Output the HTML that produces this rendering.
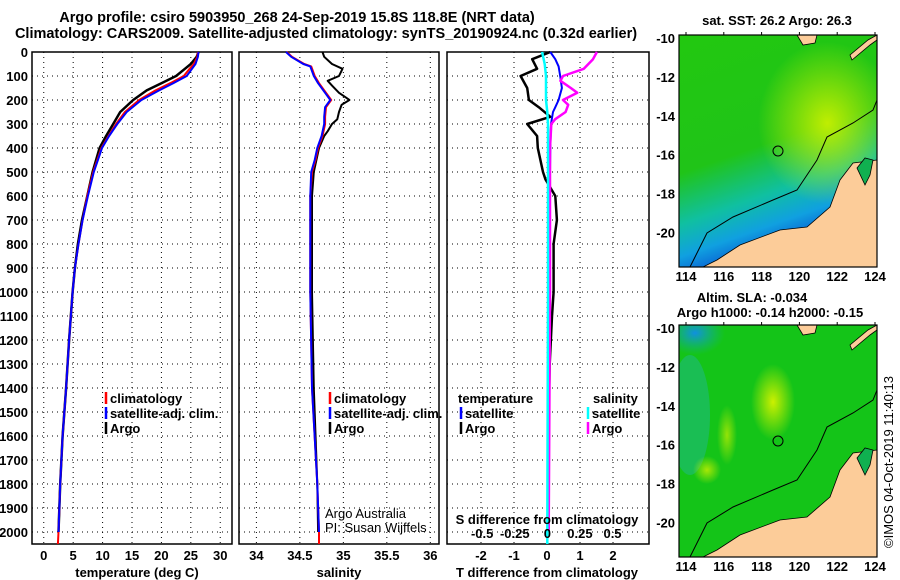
<!DOCTYPE html>
<html><head><meta charset="utf-8">
<style>
html,body{margin:0;padding:0;background:#fff;}
svg{display:block;font-family:"Liberation Sans",Arial,sans-serif;}
.b{font-weight:bold;font-size:13px;}
.t{font-weight:bold;font-size:14.5px;}
.n{font-size:13px;}
</style></head>
<body>
<svg id="root" width="900" height="580" viewBox="0 0 900 580" xmlns="http://www.w3.org/2000/svg">
<defs>
<linearGradient id="sstG" x1="0" y1="0" x2="0.3" y2="1">
<stop offset="0" stop-color="#22c810"/><stop offset="0.55" stop-color="#20c418"/><stop offset="0.75" stop-color="#10c0a0"/><stop offset="0.88" stop-color="#10a0e0"/><stop offset="1" stop-color="#0850d0"/>
</linearGradient>
<radialGradient id="sstY" cx="0.75" cy="0.38" r="0.35"><stop offset="0" stop-color="#c8f000" stop-opacity="0.95"/><stop offset="1" stop-color="#c8f000" stop-opacity="0"/></radialGradient>
<radialGradient id="slaY" cx="0.5" cy="0.5" r="0.5"><stop offset="0" stop-color="#ccf000"/><stop offset="1" stop-color="#ccf000" stop-opacity="0"/></radialGradient>
<radialGradient id="slaB" cx="0.5" cy="0.5" r="0.5"><stop offset="0" stop-color="#1090e0"/><stop offset="1" stop-color="#10b0a0" stop-opacity="0"/></radialGradient>
<clipPath id="m1c"><rect x="679" y="35" width="198" height="232"/></clipPath>
<clipPath id="m2c"><rect x="679" y="325" width="198" height="232"/></clipPath>
</defs>
<text x="297" y="22" text-anchor="middle" class="t">Argo profile: csiro 5903950_268 24-Sep-2019 15.8S 118.8E (NRT data)</text>
<text x="326" y="38" text-anchor="middle" class="t">Climatology: CARS2009. Satellite-adjusted climatology: synTS_20190924.nc (0.32d earlier)</text>
<g id="panels"></g>
<g id="maps"></g>
<text transform="translate(893,548) rotate(-90)" class="n">©IMOS 04-Oct-2019 11:40:13</text>
</svg>
<script>
// ---- data ----
const depthTicks = [0,100,200,300,400,500,600,700,800,900,1000,1100,1200,1300,1400,1500,1600,1700,1800,1900,2000];
const tempTicks = [0,5,10,15,20,25,30];
const salTicks = [34,34.5,35,35.5,36];
const tdiffTicks = [-2,-1,0,1,2];
const sdiffTicks = [-0.5,-0.25,0,0.25,0.5];
const sdiffTickLabels = ["-0.5","-0.25","0","0.25","0.5"];

const tArgoDepth = [0,20,50,70,100,130,160,200,250,300,350,400,500,600,700,800,900,1000,1200,1400,1600,1800,2000];
const tArgo =      [26.3,26,25,24,22.5,20,17.5,15.2,13,11.8,10.6,9.5,8.3,7.4,6.5,5.8,5.3,4.9,4.3,3.8,3.2,2.8,2.5];
const tClimDepth = [0,20,50,70,100,130,160,200,250,300,350,400,500,600,700,800,900,1000,1200,1400,1600,1800,2000,2050];
const tClim =      [26.2,26.1,25.5,24.8,23.8,21.5,19,16.2,13.8,12.3,11,9.8,8.4,7.4,6.6,5.9,5.3,4.9,4.3,3.8,3.2,2.8,2.5,2.4];
const tSatDepth =  [0,20,50,70,100,130,160,200,250,300,350,400,500,600,700,800,900,1000,1200,1400,1600,1800,2000];
const tSat =       [26.3,26.2,25.8,25.2,24.3,22,19.6,16.6,14.1,12.5,11.1,9.9,8.5,7.5,6.6,5.9,5.3,4.9,4.3,3.8,3.2,2.8,2.5];

const sArgoDepth = [0,20,50,70,100,120,140,170,190,200,220,250,280,300,330,350,400,500,600,800,1000,1400,1800,2000];
const sArgo =      [34.76,34.78,34.87,34.99,34.95,34.82,34.87,34.95,35.03,35.07,34.98,34.95,34.93,34.87,34.82,34.78,34.72,34.66,34.64,34.64,34.64,34.66,34.7,34.71];
const sClimDepth = [0,20,50,60,100,130,170,200,230,270,300,350,400,450,500,600,1000,1400,1800,2000,2050];
const sClim =      [34.35,34.41,34.55,34.63,34.67,34.72,34.8,34.86,34.8,34.79,34.79,34.76,34.71,34.68,34.64,34.62,34.62,34.64,34.7,34.72,34.72];
const sSatDepth =  [0,20,50,60,100,130,170,200,230,270,300,350,400,450,500,600,1000,1400,1800,2000];
const sSat =       [34.34,34.4,34.54,34.62,34.66,34.71,34.79,34.85,34.79,34.78,34.78,34.75,34.7,34.67,34.63,34.62,34.62,34.64,34.7,34.72];

const dTArgoDepth = [0,30,70,100,150,200,230,270,300,350,400,500,530,600,700,800,1000,1100,1300,1500,1800,2000];
const dTArgo =      [0.1,-0.45,-0.3,-0.8,-0.6,-0.55,-0.25,0.1,-0.6,-0.3,-0.28,-0.12,-0.05,0.25,0.3,0.2,0.2,0.15,0.08,0.05,0.03,0.02];
const dTSatDepth =  [0,30,60,100,150,200,230,250,300,400,600,1000,1500,2000];
const dTSat =       [0.1,0.25,0.35,0.4,0.45,0.35,0.25,0.18,0.12,0.1,0.08,0.06,0.04,0.03];
const dSSatDepth =  [0,50,100,200,250,300,600,1000,2000,2050];
const dSSat =       [-0.04,-0.02,-0.01,-0.01,0,0.005,0.005,0.005,0,0];
const dSArgoDepth = [0,30,70,100,120,150,170,200,220,250,280,300,400,1000,2000];
const dSArgo =      [0.38,0.35,0.28,0.12,0.1,0.18,0.23,0.12,0.16,0.14,0.06,0.03,0.02,0.02,0.01];

// ---- helpers ----
const NS = "http://www.w3.org/2000/svg";
const panelsG = document.getElementById('panels');
function el(tag, attrs, parent){const e=document.createElementNS(NS,tag);for(const k in attrs)e.setAttribute(k,attrs[k]);(parent||panelsG).appendChild(e);return e;}
const Y0=52, YB=544;
function yD(d){return Y0 + d*0.24;}
function makeX(x0,x1,v0,v1){return v=>x0+(v-v0)/(v1-v0)*(x1-x0);}
const xT = makeX(32,232,-2,32);
const xS = makeX(239,439,33.8,36.1);
const xDT = makeX(447,649,-3.03,3.09);
const xDS = makeX(447,649,-0.77,0.78);

function frame(x0,x1,name){
  const r=el('rect',{x:x0,y:Y0,width:x1-x0,height:YB-Y0,fill:'none',stroke:'#000','stroke-width':1.5});
  
  
  depthTicks.forEach(d=>{
    const g=el('line',{x1:x0,x2:x1,y1:yD(d),y2:yD(d),stroke:'#000','stroke-width':1,'stroke-dasharray':'1,4'});
    
    
  });
}
function vgrid(xf,ticks){
  ticks.forEach(t=>{
    const g=el('line',{x1:xf(t),x2:xf(t),y1:Y0,y2:YB,stroke:'#000','stroke-width':1,'stroke-dasharray':'1,4'});
    
    
  });
}
function line(xf,vals,depths,color,w,name){
  const pts=vals.map((v,i)=>xf(v).toFixed(1)+','+yD(depths[i]).toFixed(1)).join(' ');
  const p=el('polyline',{points:pts,fill:'none',stroke:color,'stroke-width':w,'stroke-linejoin':'round'});
  
  
}
function txt(x,y,s,cls,anchor,name){
  const t=el('text',{x:x,y:y,'class':cls,'text-anchor':anchor||'start'});
  t.textContent=s;
  
  
  return t;
}
function legend(x,y,color,label){
  const l=el('line',{x1:x,x2:x,y1:y-11,y2:y+1,stroke:color,'stroke-width':2.5});
  
  
  txt(x+4,y,label,'b','start','legend-entry');
}

depthTicks.forEach(d=>txt(28,yD(d)+5,String(d),'b','end','depth-tick-label'));

// ---- Panel 1: temperature ----
frame(32,232,'temperature-panel');
vgrid(xT,tempTicks);
line(xT,tArgo,tArgoDepth,'#000',2.5,'temp-argo-line');
line(xT,tClim,tClimDepth,'#f00',2,'temp-climatology-line');
line(xT,tSat,tSatDepth,'#00f',2,'temp-satellite-line');
tempTicks.forEach(t=>txt(xT(t),560,String(t),'b','middle','temp-tick-label'));
txt(137,577,'temperature (deg C)','b','middle','temp-axis-title');
legend(106,403,'#f00','climatology');
legend(106,418,'#00f','satellite-adj. clim.');
legend(106,433,'#000','Argo');

// ---- Panel 2: salinity ----
frame(239,439,'salinity-panel');
vgrid(xS,salTicks);
line(xS,sArgo,sArgoDepth,'#000',2,'sal-argo-line');
line(xS,sClim,sClimDepth,'#f00',2,'sal-climatology-line');
line(xS,sSat,sSatDepth,'#00f',2,'sal-satellite-line');
salTicks.forEach(t=>txt(xS(t),560,String(t),'b','middle','sal-tick-label'));
txt(339,577,'salinity','b','middle','sal-axis-title');
legend(330,403,'#f00','climatology');
legend(330,418,'#00f','satellite-adj. clim.');
legend(330,433,'#000','Argo');
txt(325,518,'Argo Australia','n','start','credit-line-1');
txt(325,532,'PI: Susan Wijffels','n','start','credit-line-2');

// ---- Panel 3: differences ----
frame(447,649,'difference-panel');
vgrid(xDT,tdiffTicks);
line(xDT,dTArgo,dTArgoDepth,'#000',2.5,'tdiff-argo-line');
line(xDT,dTSat,dTSatDepth,'#00f',2,'tdiff-satellite-line');
line(xDS,dSArgo,dSArgoDepth,'#f0f',2.5,'sdiff-argo-line');
line(xDS,dSSat,dSSatDepth,'#0ff',2.5,'sdiff-satellite-line');
tdiffTicks.forEach(t=>txt(xDT(t),560,String(t),'b','middle','tdiff-tick-label'));
sdiffTicks.forEach((t,i)=>txt(xDS(t),538,sdiffTickLabels[i],'b','middle','sdiff-tick-label'));
txt(547,524,'S difference from climatology','b','middle','sdiff-axis-title');
txt(547,577,'T difference from climatology','b','middle','tdiff-axis-title');
txt(458,403,'temperature','b','start','legend-heading-temperature');
legend(461,418,'#00f','satellite');
legend(461,433,'#000','Argo');
txt(593,403,'salinity','b','start','legend-heading-salinity');
legend(588,418,'#0ff','satellite');
legend(588,433,'#f0f','Argo');

// ---- Maps ----
const mapsG=document.getElementById('maps');
const lonTicks=[114,116,118,120,122,124];
const latTicks=[-10,-12,-14,-16,-18,-20];
function lonX(l){return 686+(l-114)*18.9;}
function latY(top,l){return top+3+(-10-l)*19.45;}
function mel(tag,attrs,parent){return el(tag,attrs,parent||mapsG);}
function drawMap(top,name,kind){
  const g=mel('g',{'clip-path':'url(#'+(kind==='sst'?'m1c':'m2c')+')'});
  
  
  const o=top-35;
  if(kind==='sst'){
    mel('rect',{x:679,y:top,width:198,height:232,fill:'url(#sstG)'},g);
    mel('rect',{x:679,y:top,width:198,height:232,fill:'url(#sstY)'},g);
  } else {
    mel('rect',{x:679,y:top,width:198,height:232,fill:'#14c418'},g);
    mel('ellipse',{cx:695,cy:top+8,rx:30,ry:22,fill:'url(#slaB)'},g);
    mel('ellipse',{cx:690,cy:top+90,rx:20,ry:60,fill:'#20b890',opacity:0.5},g);
    mel('ellipse',{cx:773,cy:top+77,rx:22,ry:38,fill:'url(#slaY)'},g);
    mel('ellipse',{cx:727,cy:top+110,rx:10,ry:30,fill:'url(#slaY)',opacity:0.7},g);
    mel('ellipse',{cx:707,cy:top+145,rx:14,ry:14,fill:'url(#slaY)',opacity:0.8},g);
  }
  const land=[[703,267],[717,260],[740,245],[780,230],[807,227],[830,207],[840,180],[853,163],[877,160],[877,267]].map(p=>p[0]+','+(p[1]+o)).join(' ');
  mel('polygon',{points:land,fill:'#fccc99',stroke:'#000','stroke-width':0.8},g);
  mel('polygon',{points:[[797,35],[817,35],[815,43],[803,45]].map(p=>p[0]+','+(p[1]+o)).join(' '),fill:'#fccc99',stroke:'#000','stroke-width':0.8},g);
  mel('polygon',{points:[[852,60],[870,45],[877,40],[877,35],[868,40],[850,55]].map(p=>p[0]+','+(p[1]+o)).join(' '),fill:'#fccc99',stroke:'#000','stroke-width':0.8},g);
  mel('polygon',{points:[[857,168],[865,158],[873,160],[870,175],[865,185]].map(p=>p[0]+','+(p[1]+o)).join(' '),fill:'#10b050',stroke:'#000','stroke-width':0.8},g);
  const bath=[[690,267],[707,233],[733,217],[773,200],[797,190],[817,160],[827,137],[853,123],[873,110],[877,100]].map(p=>p[0]+','+(p[1]+o)).join(' ');
  mel('polyline',{points:bath,fill:'none',stroke:'#000','stroke-width':1},g);
  mel('circle',{cx:778,cy:151+o,r:5,fill:'none',stroke:'#000','stroke-width':1},g);
  const fr=mel('rect',{x:679,y:top,width:198,height:232,fill:'none',stroke:'#000','stroke-width':1.2});
  
  
  latTicks.forEach(l=>{
    const t=mel('text',{x:675,y:latY(top,l)+5,'class':'b','text-anchor':'end'});
    t.textContent=String(l);
    
    
  });
  lonTicks.forEach(l=>{
    const t=mel('text',{x:lonX(l),y:top+246,'class':'b','text-anchor':'middle'});
    t.textContent=String(l);
    
    
    mel('line',{x1:lonX(l),x2:lonX(l),y1:top,y2:top-3,stroke:'#000'});
  });
}
drawMap(35,'sst-map','sst');
drawMap(325,'sla-map','sla');
function mtxt(x,y,s,name){const t=mel('text',{x:x,y:y,'class':'b','text-anchor':'middle'});t.textContent=s;
  
  }
mtxt(777,25,'sat. SST: 26.2 Argo: 26.3','sst-map-title');
mtxt(752,302,'Altim. SLA: -0.034','sla-map-title');
mtxt(770,317,'Argo h1000: -0.14 h2000: -0.15','sla-map-subtitle');
</script>
</body></html>
